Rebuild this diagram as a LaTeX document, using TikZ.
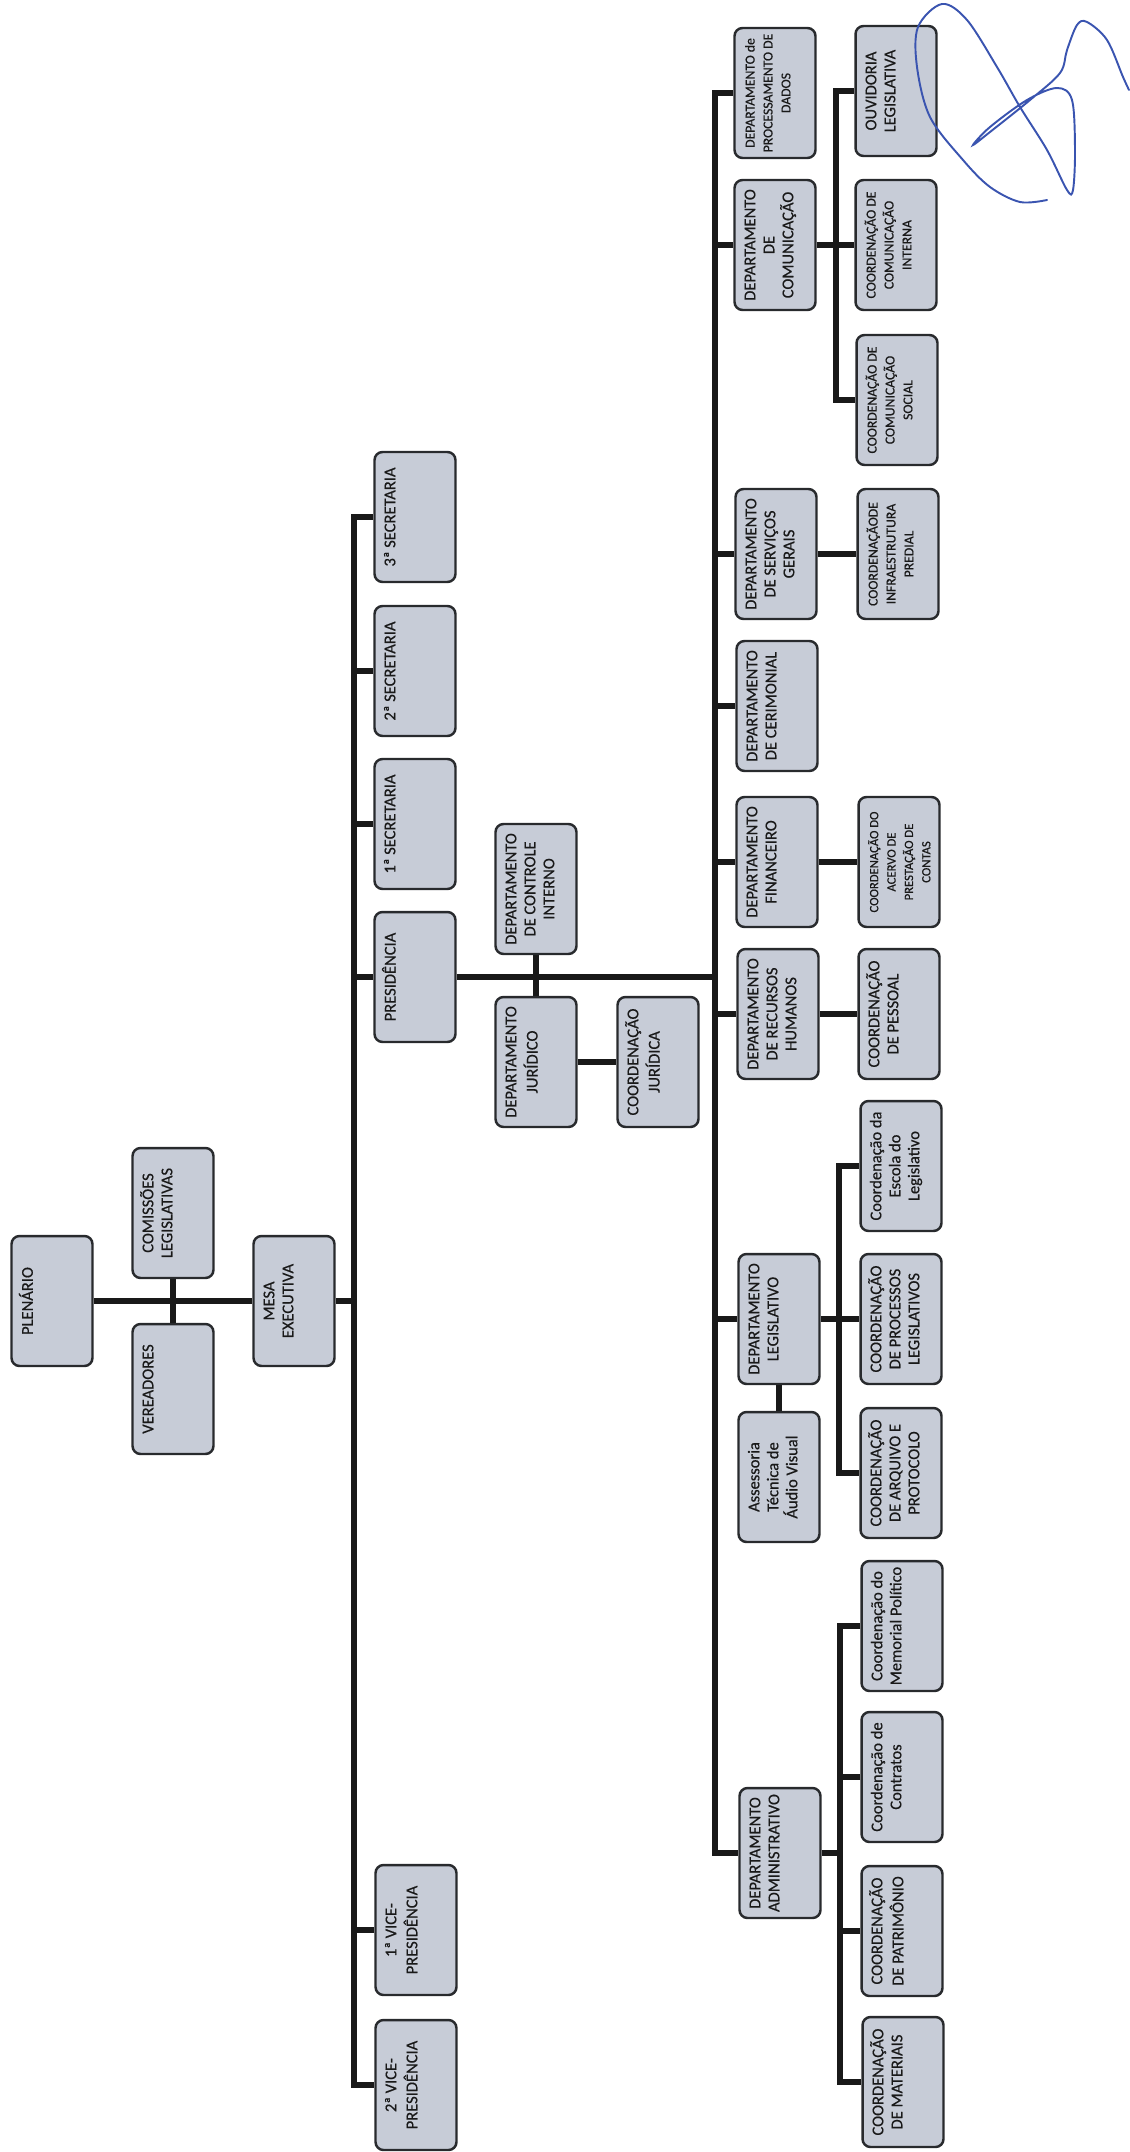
\documentclass[tikz,border=0pt]{standalone}
\usepackage{fontspec}
\setmainfont{Carlito}
\newfontfamily\boxface{Carlito}[FakeBold=0.5]
\usepackage{graphicx}
\usepackage{tikz}
\usetikzlibrary{calc, backgrounds}
\definecolor{boxfill}{RGB}{199,204,215}
\definecolor{boxline}{RGB}{40,42,45}
\definecolor{penblue}{RGB}{58,84,176}
\newcommand{\boxfont}{\boxface\fontsize{9.4}{10.8}\selectfont}
\newcommand{\smallfont}{\boxface\fontsize{7.8}{10.2}\selectfont}
\newcommand{\tinyfont}{\boxface\fontsize{7.2}{9.9}\selectfont}
\newcommand{\boxtxt}[2][\boxfont]{\rotatebox{90}{\parbox[c][1.62cm][t]{2.6cm}{#1\centering\vspace*{0.15cm}\strut#2}}}

\begin{document}
\begin{tikzpicture}
    [x={(0.02cm,0cm)},y={(0cm,-0.02cm)},
     unit/.style={draw=boxline, fill=boxfill, line width=1.4pt, rounded corners=0.16cm,
       minimum width=1.62cm, minimum height=2.6cm, inner sep=0pt, text=black!90},
     link/.style={line width=3.2pt, draw=black!90},
     sign/.style={draw=penblue, line width=1.1pt, line cap=round}]
    \useasboundingbox (0,0) rectangle (1129,2152);
    % plenary
    \node[unit] (plen) at (52,1301) {\boxtxt{PLENÁRIO}};
    \node[unit] (comis) at (173,1213) {\boxtxt{COMISSÕES\\LEGISLATIVAS}};
    \node[unit] (vere) at (173,1389) {\boxtxt{VEREADORES}};
    \node[unit] (mesa) at (294,1301) {\boxtxt{MESA\\EXECUTIVA}};
    % mesa
    \node[unit] (sec3) at (415,517) {\boxtxt{3ª SECRETARIA}};
    \node[unit] (sec2) at (415,671) {\boxtxt{2ª SECRETARIA}};
    \node[unit] (sec1) at (415,824) {\boxtxt{1ª SECRETARIA}};
    \node[unit] (pres) at (415,977) {\boxtxt{PRESIDÊNCIA}};
    \node[unit] (vice1) at (416,1930) {\boxtxt{1ª VICE-\\PRESIDÊNCIA}};
    \node[unit] (vice2) at (416,2085) {\boxtxt{2ª VICE-\\PRESIDÊNCIA}};
    \coordinate (mspine) at (354,1301);
    % presidency
    \node[unit] (ctrl) at (536,889) {\boxtxt{DEPARTAMENTO\\DE CONTROLE\\INTERNO}};
    \node[unit] (jur) at (536,1062) {\boxtxt{DEPARTAMENTO\\JURÍDICO}};
    \node[unit] (cjur) at (658,1062) {\boxtxt{COORDENAÇÃO\\JURÍDICA}};
    \coordinate (rspine) at (715,977);
    % departments
    \node[unit] (dproc) at (775,93) {\boxtxt[\smallfont]{DEPARTAMENTO de\\PROCESSAMENTO DE\\DADOS}};
    \node[unit] (dcom) at (775,245) {\boxtxt{DEPARTAMENTO\\DE\\COMUNICAÇÃO}};
    \node[unit] (dserv) at (776,554) {\boxtxt{DEPARTAMENTO\\DE SERVIÇOS\\GERAIS}};
    \node[unit] (dcer) at (777,706) {\boxtxt{DEPARTAMENTO\\DE CERIMONIAL}};
    \node[unit] (dfin) at (777,862) {\boxtxt{DEPARTAMENTO\\FINANCEIRO}};
    \node[unit] (drh) at (778,1014) {\boxtxt{DEPARTAMENTO\\DE RECURSOS\\HUMANOS}};
    \node[unit] (dleg) at (779,1319) {\boxtxt{DEPARTAMENTO\\LEGISLATIVO}};
    \node[unit] (asse) at (779,1477) {\boxtxt{Assessoria\\Técnica de\\Áudio Visual}};
    \node[unit] (dadm) at (780,1853) {\boxtxt{DEPARTAMENTO\\ADMINISTRATIVO}};
    % coordinations
    \node[unit] (ouvid) at (896,91) {\boxtxt{OUVIDORIA\\LEGISLATIVA}};
    \node[unit] (cint) at (896,245) {\boxtxt[\smallfont]{COORDENAÇÃO DE\\COMUNICAÇÃO\\INTERNA}};
    \node[unit] (csoc) at (897,400) {\boxtxt[\smallfont]{COORDENAÇÃO DE\\COMUNICAÇÃO\\SOCIAL}};
    \node[unit] (cinfra) at (898,554) {\boxtxt[\smallfont]{COORDENAÇÃODE\\INFRAESTRUTURA\\PREDIAL}};
    \node[unit] (cacer) at (899,862) {\boxtxt[\tinyfont]{COORDENAÇÃO DO\\ACERVO DE\\PRESTAÇÃO DE\\CONTAS}};
    \node[unit] (cpess) at (899,1014) {\boxtxt{COORDENAÇÃO\\DE PESSOAL}};
    \node[unit] (cesc) at (901,1166) {\boxtxt{Coordenação da\\Escola do\\Legislativo}};
    \node[unit] (cproc) at (901,1319) {\boxtxt{COORDENAÇÃO\\DE PROCESSOS\\LEGISLATIVOS}};
    \node[unit] (carq) at (901,1473) {\boxtxt{COORDENAÇÃO\\DE ARQUIVO E\\PROTOCOLO}};
    \node[unit] (cmem) at (902,1626) {\boxtxt{Coordenação do\\Memorial Político}};
    \node[unit] (ccont) at (902,1777) {\boxtxt{Coordenação de\\Contratos}};
    \node[unit] (cpatr) at (902,1931) {\boxtxt{COORDENAÇÃO\\DE PATRIMÔNIO}};
    \node[unit] (cmat) at (903,2082) {\boxtxt{COORDENAÇÃO\\DE MATERIAIS}};
    \coordinate (comx) at (836,245);
    \coordinate (legx) at (839,1319);
    \coordinate (admx) at (840,1853);
    % links
    \begin{scope}[on background layer]
      \draw[link] (plen) -- (mesa);
      \draw[link] (comis) -- (vere);
      \draw[link] (mesa) -- (mspine);
      \draw[link] (sec3.west) -| (mspine) |- (vice2.west);
      \foreach \n in {sec2,sec1,pres,vice1}
        \draw[link] (\n.west) -- (\n.west -| mspine);
      \draw[link] (pres) -- (rspine);
      \draw[link] (ctrl) -- (jur);
      \draw[link] (jur) -- (cjur);
      \draw[link] (dproc.west) -| (rspine) |- (dadm.west);
      \foreach \n in {dcom,dserv,dcer,dfin,drh,dleg}
        \draw[link] (\n.west) -- (\n.west -| rspine);
      \draw[link] (dcom) -- (cint);
      \draw[link] (ouvid.west) -| (comx) |- (csoc.west);
      \draw[link] (dserv) -- (cinfra);
      \draw[link] (dfin) -- (cacer);
      \draw[link] (drh) -- (cpess);
      \draw[link] (dleg) -- (cproc);
      \draw[link] (dleg) -- (asse);
      \draw[link] (cesc.west) -| (legx) |- (carq.west);
      \draw[link] (dadm) -- (admx);
      \draw[link] (cmem.west) -| (admx) |- (cmat.west);
      \foreach \n in {ccont,cpatr}
        \draw[link] (\n.west) -- (\n.west -| admx);
    \end{scope}
    % signature
    \draw[sign] plot[smooth, tension=0.55] coordinates {(1047,200) (1020,202) (990,187) (963,160)
      (930,117) (917,67) (918,27) (942,4) (967,20) (997,67) (1020,107) (1047,150) (1067,190)
      (1073,190) (1075,150) (1072,100) (1057,88) (1027,100) (990,127) (973,145) (990,132)
      (1030,100) (1060,73) (1067,50) (1077,25) (1087,22) (1107,40) (1123,77) (1129,90)};
\end{tikzpicture}
\end{document}
